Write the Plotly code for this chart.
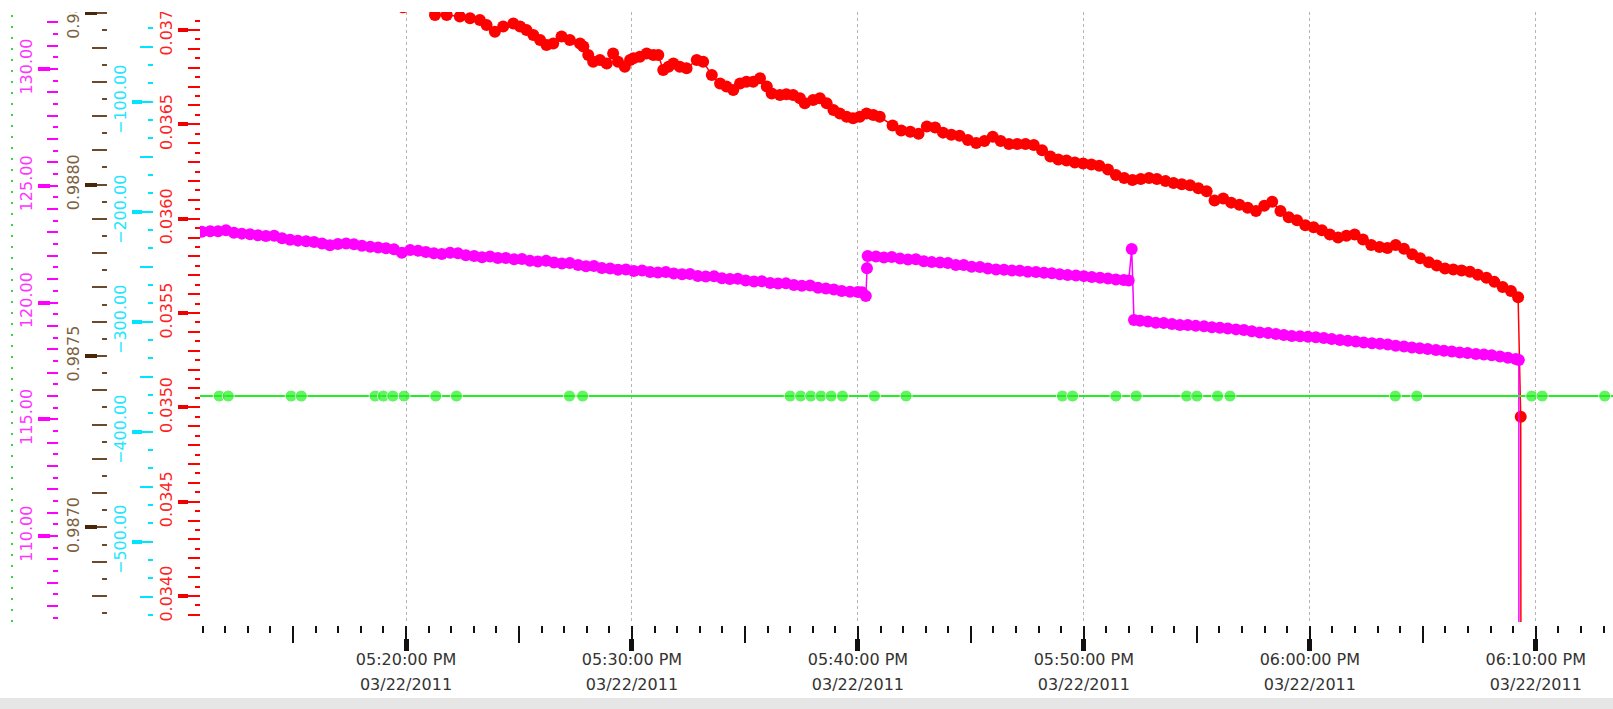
import plotly.graph_objects as go

DAY = "2011-03-22 "

# ---------------- data ----------------
red_time = [
    "17:11:00", "17:16:00", "17:19:52", "17:20:36",
    "17:21:17", "17:21:48", "17:22:23", "17:22:50", "17:23:16", "17:23:34", "17:23:56", "17:24:18",
    "17:24:45", "17:25:03", "17:25:20", "17:25:38", "17:25:56", "17:26:13", "17:26:31", "17:26:53",
    "17:27:15", "17:27:42", "17:27:51", "17:28:04", "17:28:17", "17:28:35", "17:28:53", "17:29:10",
    "17:29:23", "17:29:41", "17:29:55", "17:30:04", "17:30:21", "17:30:39", "17:30:57", "17:31:10",
    "17:31:23", "17:31:37", "17:31:50", "17:32:07", "17:32:25", "17:32:52", "17:33:09", "17:33:32",
    "17:33:54", "17:34:11", "17:34:29", "17:34:47", "17:35:04", "17:35:22", "17:35:40", "17:35:58",
    "17:36:11", "17:36:33", "17:36:50", "17:37:08", "17:37:26", "17:37:39", "17:38:01", "17:38:19",
    "17:38:37", "17:38:55", "17:39:12", "17:39:30", "17:39:47", "17:40:05", "17:40:23", "17:40:41",
    "17:40:58", "17:41:32", "17:41:55",
    "17:42:19", "17:42:41", "17:43:03", "17:43:25", "17:43:46", "17:44:08", "17:44:30", "17:44:52",
    "17:45:14", "17:45:36", "17:45:58", "17:46:19", "17:46:41", "17:47:03", "17:47:25", "17:47:47",
    "17:48:09", "17:48:31", "17:48:52", "17:49:14", "17:49:36", "17:49:58", "17:50:20", "17:50:41",
    "17:51:04", "17:51:25", "17:51:47", "17:52:09", "17:52:31", "17:52:53", "17:53:14", "17:53:37",
    "17:53:58", "17:54:20", "17:54:42", "17:55:04", "17:55:26", "17:55:47", "17:56:10", "17:56:31",
    "17:56:53", "17:57:15", "17:57:37", "17:57:59", "17:58:20", "17:58:42", "17:59:04", "17:59:26",
    "17:59:48", "18:00:10", "18:00:32", "18:00:53", "18:01:15", "18:01:37", "18:01:59", "18:02:21",
    "18:02:43", "18:03:05", "18:03:26", "18:03:48", "18:04:10", "18:04:32", "18:04:53", "18:05:16",
    "18:05:37", "18:05:59", "18:06:21", "18:06:43", "18:07:05", "18:07:26", "18:07:49", "18:08:10",
    "18:08:32", "18:08:54", "18:09:13", "18:09:20", "18:09:34"]
red_value = [
    0.03722, 0.03717, 0.03712, 0.03713,
    0.037080, 0.037080, 0.037071, 0.037062, 0.037053, 0.037027, 0.036991, 0.037018,
    0.037035, 0.037018, 0.037000, 0.036973, 0.036947, 0.036920, 0.036929, 0.036965,
    0.036947, 0.036929, 0.036912, 0.036867, 0.036832, 0.036841, 0.036823, 0.036876,
    0.036832, 0.036805, 0.036841, 0.036850, 0.036858, 0.036876, 0.036867, 0.036867,
    0.036788, 0.036805, 0.036823, 0.036805, 0.036797, 0.036841, 0.036832, 0.036761,
    0.036717, 0.036700, 0.036682, 0.036717, 0.036726, 0.036726, 0.036744, 0.036700,
    0.036664, 0.036655, 0.036660, 0.036655, 0.036638, 0.036612, 0.036629, 0.036638,
    0.036612, 0.036576, 0.036558, 0.036540, 0.036532, 0.036540, 0.036558, 0.036549,
    0.036540, 0.036494, 0.036467,
    0.036461, 0.036450, 0.036489, 0.036483, 0.036456, 0.036445, 0.036439, 0.036417,
    0.036401, 0.036412, 0.036434, 0.036412, 0.036396, 0.036396, 0.036396, 0.036390,
    0.036363, 0.036330, 0.036314, 0.036308, 0.036298, 0.036292, 0.036287, 0.036281,
    0.036260, 0.036232, 0.036216, 0.036205, 0.036210, 0.036216, 0.036210, 0.036199,
    0.036189, 0.036183, 0.036177, 0.036161, 0.036145, 0.036096, 0.036107, 0.036085,
    0.036074, 0.036058, 0.036041, 0.036069, 0.036090, 0.036041, 0.036008, 0.035992,
    0.035965, 0.035954, 0.035938, 0.035916, 0.035900, 0.035910, 0.035916, 0.035889,
    0.035861, 0.035850, 0.035845, 0.035861, 0.035840, 0.035812, 0.035790, 0.035769,
    0.035752, 0.035736, 0.035731, 0.035725, 0.035719, 0.035703, 0.035687, 0.035665,
    0.035638, 0.035616, 0.035583, 0.03495, 0.0]

magenta_time = [
    "17:10:58", "17:11:20", "17:11:41", "17:12:02", "17:12:23", "17:12:44", "17:13:06", "17:13:27",
    "17:13:48", "17:14:10", "17:14:31", "17:14:52", "17:15:13", "17:15:35", "17:15:56", "17:16:17",
    "17:16:38", "17:16:59", "17:17:21", "17:17:42", "17:18:03", "17:18:25", "17:18:46", "17:19:07",
    "17:19:28", "17:19:49", "17:20:11", "17:20:32", "17:20:53", "17:21:14", "17:21:35", "17:21:57",
    "17:22:18", "17:22:39", "17:23:01", "17:23:22",
    "17:23:43", "17:24:04", "17:24:25", "17:24:47", "17:25:08", "17:25:29", "17:25:50", "17:26:12",
    "17:26:33", "17:26:54", "17:27:15", "17:27:37", "17:27:58", "17:28:19", "17:28:40", "17:29:02",
    "17:29:23", "17:29:44", "17:30:05", "17:30:27", "17:30:48", "17:31:09", "17:31:30", "17:31:51",
    "17:32:13", "17:32:34", "17:32:55", "17:33:16", "17:33:38", "17:33:59", "17:34:20", "17:34:41",
    "17:35:02", "17:35:24", "17:35:45", "17:36:07", "17:36:28", "17:36:49", "17:37:10", "17:37:31",
    "17:37:53", "17:38:14", "17:38:35", "17:38:56", "17:39:17", "17:39:39", "17:40:00", "17:40:11",
    "17:40:21", "17:40:24", "17:40:26",
    "17:40:48", "17:41:09", "17:41:30", "17:41:52", "17:42:13", "17:42:34", "17:42:55", "17:43:16",
    "17:43:38", "17:43:59", "17:44:20", "17:44:41", "17:45:02", "17:45:24", "17:45:45", "17:46:07",
    "17:46:28", "17:46:49", "17:47:10", "17:47:31", "17:47:53", "17:48:14", "17:48:35", "17:48:56",
    "17:49:17", "17:49:39", "17:50:00", "17:50:21", "17:50:43", "17:51:04", "17:51:25", "17:51:46",
    "17:51:59", "17:52:07", "17:52:13",
    "17:52:29", "17:52:50", "17:53:11", "17:53:32", "17:53:54", "17:54:15", "17:54:36", "17:54:57",
    "17:55:19", "17:55:40", "17:56:01", "17:56:22", "17:56:44", "17:57:05", "17:57:26", "17:57:47",
    "17:58:09", "17:58:30", "17:58:51", "17:59:12", "17:59:34", "17:59:55", "18:00:16", "18:00:37",
    "18:00:58", "18:01:20", "18:01:41", "18:02:02", "18:02:23", "18:02:45", "18:03:06", "18:03:27",
    "18:03:48", "18:04:10", "18:04:31", "18:04:52", "18:05:13", "18:05:35", "18:05:56", "18:06:17",
    "18:06:38", "18:06:59", "18:07:21", "18:07:42", "18:08:03", "18:08:25", "18:08:46", "18:09:07",
    "18:09:15", "18:09:16"]
magenta_value = [
    123.03, 123.05, 123.05, 123.09, 122.99, 122.95, 122.92, 122.88,
    122.85, 122.86, 122.75, 122.69, 122.65, 122.62, 122.59, 122.53,
    122.45, 122.51, 122.53, 122.49, 122.43, 122.39, 122.36, 122.32,
    122.28, 122.13, 122.25, 122.22, 122.16, 122.11, 122.08, 122.13,
    122.11, 122.02, 121.99, 121.94,
    121.97, 121.91, 121.91, 121.85, 121.86, 121.79, 121.76, 121.79,
    121.71, 121.67, 121.69, 121.61, 121.55, 121.56, 121.48, 121.46,
    121.40, 121.41, 121.35, 121.37, 121.31, 121.29, 121.31, 121.24,
    121.21, 121.22, 121.14, 121.11, 121.12, 121.04, 121.01, 121.02,
    120.94, 120.90, 120.91, 120.84, 120.81, 120.82, 120.75, 120.72,
    120.73, 120.63, 120.60, 120.56, 120.49, 120.46, 120.45, 120.44,
    120.28, 121.47, 121.99,
    121.97, 121.93, 121.95, 121.88, 121.84, 121.85, 121.77, 121.73,
    121.71, 121.69, 121.61, 121.61, 121.53, 121.52, 121.46, 121.41,
    121.40, 121.37, 121.36, 121.32, 121.31, 121.27, 121.25, 121.21,
    121.18, 121.16, 121.13, 121.09, 121.06, 121.03, 120.99, 120.96,
    120.94, 122.29, 119.25,
    119.22, 119.19, 119.13, 119.12, 119.08, 119.04, 119.04, 119.00,
    118.98, 118.94, 118.92, 118.89, 118.85, 118.82, 118.77, 118.72,
    118.69, 118.65, 118.61, 118.57, 118.56, 118.53, 118.51, 118.48,
    118.44, 118.40, 118.36, 118.33, 118.29, 118.26, 118.23, 118.20,
    118.15, 118.12, 118.07, 118.04, 118.01, 117.97, 117.93, 117.90,
    117.86, 117.84, 117.80, 117.77, 117.74, 117.69, 117.64, 117.58,
    117.54, 0.0]

green_time = ["17:10:00", "17:11:44", "17:12:08", "17:14:55", "17:15:22", "17:18:38", "17:19:00",
              "17:19:25", "17:19:55", "17:21:19", "17:22:14", "17:27:14", "17:27:49", "17:37:00",
              "17:37:28", "17:37:55", "17:38:22", "17:38:49", "17:39:19", "17:40:44", "17:42:08",
              "17:49:03", "17:49:30", "17:51:25", "17:52:19", "17:54:33", "17:55:00", "17:55:55",
              "17:56:28", "18:03:47", "18:04:44", "18:09:49", "18:10:17", "18:13:03", "18:15:00"]
green_value = [1] * len(green_time)
green_marked = [False] + [True] * (len(green_time) - 2) + [False]

x_range = ["2011-03-22 17:10:53", "2011-03-22 18:13:25"]

# axis scales (ranges and tick steps) for the four labelled value axes
red_range = [0.0338622, 0.0370954]
red_steps = (0.0005, 0.0001, 0.00005)
magenta_range = [106.32, 132.44]
magenta_steps = (5, 1, 0.5)
brown_range = [0.986724, 0.9885036]   # top tick (0.9885) sits just above the chart area
brown_steps = (0.0005, 0.0001, 0.00005)
cyan_range = [-573.0, -18.45]
cyan_steps = (100, 50, 100 / 6)
green_range = [0, 2.7]

# ---------------- layout geometry / style ----------------
W, H = 1613, 709
PLOT_L, PLOT_T, PLOT_B = 200, 12, 622
BROWN_T = 8
FONT = "DejaVu Sans"


def fx(px):
    return px / W


def fy(py):
    return 1 - py / H


ydom = [fy(PLOT_B), fy(PLOT_T)]
xdom = [fx(PLOT_L), 1]

fig = go.Figure()

fig.add_trace(go.Scatter(
    x=[DAY + t for t in green_time], y=green_value, xaxis="x", yaxis="y5",
    mode="lines+markers", line=dict(color="#22ee22", width=2),
    marker=dict(color="#22ee22", size=[12 if m else 0 for m in green_marked]),
    showlegend=False, hoverinfo="skip"))
fig.add_trace(go.Scatter(
    x=[DAY + t for t in magenta_time], y=magenta_value, xaxis="x", yaxis="y2",
    mode="lines+markers", line=dict(color="#ff00ff", width=1.5),
    marker=dict(color="#ff00ff", size=12), showlegend=False, hoverinfo="skip"))
fig.add_trace(go.Scatter(
    x=[DAY + t for t in red_time], y=red_value, xaxis="x", yaxis="y",
    mode="lines+markers", line=dict(color="#ff0000", width=1.5),
    marker=dict(color="#ff0000", size=12), showlegend=False, hoverinfo="skip"))

# empty traces so every decorative axis gets drawn
for xa, ya in [("x2", "y"), ("x3", "y"), ("x4", "y"), ("x5", "y")] + [("x", f"y{i}") for i in (3, 4, 6, 7, 8, 9, 10, 11, 12, 13)]:
    fig.add_trace(go.Scatter(x=[], y=[], xaxis=xa, yaxis=ya, showlegend=False, hoverinfo="skip"))

layout = dict(width=W, height=H, autosize=False,
              margin=dict(l=0, r=0, t=0, b=0, pad=0, autoexpand=False),
              paper_bgcolor="white", plot_bgcolor="white", showlegend=False,
              font=dict(family=FONT, size=16))

# x axes
T0 = DAY + "17:20:00"
xcommon = dict(type="date", range=x_range, domain=xdom, anchor="free", zeroline=False,
               showline=False, automargin=False)
layout["xaxis"] = dict(**xcommon, position=fy(625), tick0=T0, dtick=600000,
                       ticks="outside", ticklen=13, tickwidth=2, tickcolor="#111111",
                       showticklabels=False, showgrid=True, griddash="dot", gridcolor="#b4b4b4", gridwidth=1,
                       minor=dict(tick0=T0, dtick=60000, ticks="outside", ticklen=7,
                                  tickwidth=2, tickcolor="#111111", showgrid=False))
layout["xaxis2"] = dict(**xcommon, overlaying="x", position=fy(625), tick0=T0, dtick=300000,
                        ticks="outside", ticklen=17, tickwidth=2, tickcolor="#111111",
                        showticklabels=False, showgrid=False)
layout["xaxis3"] = dict(**xcommon, overlaying="x", position=fy(638), tick0=T0, dtick=600000,
                        ticks="outside", ticklen=12, tickwidth=5, tickcolor="#111111",
                        showticklabels=False, showgrid=False)
layout["xaxis4"] = dict(**xcommon, overlaying="x", position=fy(673), tick0=T0, dtick=600000,
                        ticks="", showticklabels=True, tickformat="%m/%d/%Y",
                        tickfont=dict(family=FONT, size=16, color="#333333"), showgrid=False)
layout["xaxis5"] = dict(**xcommon, overlaying="x", position=fy(648), tick0=T0, dtick=600000,
                        ticks="", showticklabels=True, tickformat="%I:%M:%S %p",
                        tickfont=dict(family=FONT, size=16, color="#333333"), showgrid=False)

# value axes: (name, long overlay, thick overlay, range, steps, format, line px, thick span, colours, long len, top px)
axes = [
    ("yaxis", "yaxis6", "yaxis10", red_range, red_steps, ".4f", 200, (178, 188), "#ff2222", "#ff0000", "#ee0000", 12, PLOT_T),
    ("yaxis2", "yaxis7", "yaxis11", magenta_range, magenta_steps, ".2f", 58, (38, 50), "#ff33ff", "#ff00ff", "#ff00ff", 11, PLOT_T),
    ("yaxis3", "yaxis8", "yaxis12", brown_range, brown_steps, ".4f", 107, (85, 97), "#7d6040", "#6a4a2a", "#4a2608", 15, BROWN_T),
    ("yaxis4", "yaxis9", "yaxis13", cyan_range, cyan_steps, ".2f", 153, (132, 142), "#22e6ff", "#00e5ff", "#00e5ff", 13, PLOT_T),
]
for main, longax, thick, rng, (major, longstep, minorstep), fmt, line_px, (t0, t1), lab_col, tick_col, thick_col, longlen, top_px in axes:
    common = dict(range=rng, domain=[fy(PLOT_B), fy(top_px)], anchor="free", side="left", showgrid=False,
                  zeroline=False, showline=False, automargin=False)
    if main != "yaxis":
        common["overlaying"] = "y"
    layout[main] = dict(**common, position=fx(line_px), tick0=0, dtick=major, ticks="outside",
                        ticklen=line_px - t0, tickwidth=1, tickcolor=tick_col,
                        showticklabels=True, tickformat=fmt, tickangle=-90, ticklabeloverflow="allow",
                        tickfont=dict(family=FONT, size=16, color=lab_col),
                        minor=dict(tick0=0, dtick=minorstep, ticks="outside", ticklen=5,
                                   tickwidth=2, tickcolor=tick_col, showgrid=False))
    common["overlaying"] = "y"
    layout[longax] = dict(**common, position=fx(line_px), tick0=0, dtick=longstep, ticks="outside",
                          ticklen=longlen, tickwidth=2, tickcolor=tick_col, showticklabels=False)
    layout[thick] = dict(**common, position=fx(t1), tick0=0, dtick=major, ticks="outside",
                         ticklen=t1 - t0, tickwidth=4, tickcolor=thick_col, showticklabels=False)

layout["yaxis5"] = dict(range=green_range, domain=ydom, anchor="free", position=fx(12),
                        overlaying="y", visible=False, automargin=False)

layout["shapes"] = [
    # dotted green value axis at the far left
    dict(type="line", xref="paper", yref="paper", x0=fx(12), x1=fx(12), y0=ydom[0], y1=ydom[1],
         line=dict(color="#33dd33", width=2, dash="2px,9px"), layer="above"),
    # labels are clipped at the top of the chart area
    dict(type="rect", xref="paper", yref="paper", x0=0, x1=fx(PLOT_L), y0=fy(PLOT_T), y1=1,
         fillcolor="white", line=dict(width=0), layer="above"),
    # grey strip at the bottom of the window
    dict(type="rect", xref="paper", yref="paper", x0=0, x1=1, y0=0, y1=fy(698),
         fillcolor="#e6e6e6", line=dict(width=0), layer="above"),
]

fig.update_layout(**layout)
fig.write_html("out.html")
